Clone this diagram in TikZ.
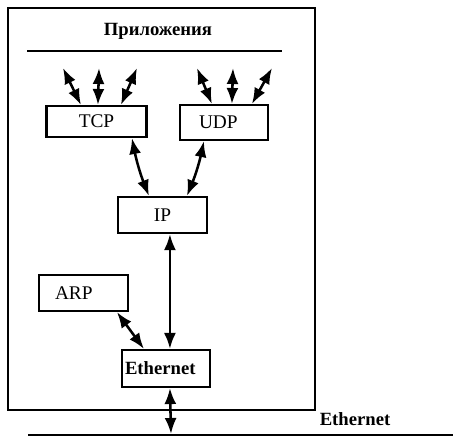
\documentclass[tikz,border=0pt]{standalone}
\usepackage{fontspec}
\setmainfont{Liberation Serif}
\usetikzlibrary{arrows.meta,calc}
\begin{document}
\begin{tikzpicture}[x=0.75pt,y=-0.75pt,
  box/.style={draw,line width=1.6pt,inner sep=0pt,font=\fontsize{14.5}{16}\selectfont},
  conn/.style={line width=1.9pt,{Latex[length=12pt,width=9pt]}-{Latex[length=12pt,width=9pt]}},
  frameline/.style={line width=1.6pt}]
\useasboundingbox (0,0) rectangle (460,444);
\draw[frameline] (8,8) rectangle (315,410);
\node[font=\bfseries\fontsize{14}{16}\selectfont] (title) at (158,31) {Приложения};
\draw[frameline] (27,51) -- (282,51);
\node[box,minimum width=75pt,minimum height=23.25pt] (tcp) at (96.5,121.5) {TCP};
\node[box,minimum width=66pt,minimum height=26.25pt,text width=37.5pt,align=left] (udp) at (224,122.5) {UDP};
\node[box,minimum width=66.75pt,minimum height=27pt] (ip) at (162.5,215) {IP};
\node[box,minimum width=66.75pt,minimum height=27pt,text width=42.75pt,align=left] (arp) at (83.5,293) {ARP};
\node[box,font=\bfseries\fontsize{14}{16}\selectfont,minimum width=66pt,minimum height=27.75pt,text width=61.5pt,align=left] (eth) at (166,368.5) {Ethernet};
\node[font=\bfseries\fontsize{14}{16}\selectfont] (ethlabel) at (355,419) {Ethernet};
\coordinate (t1) at (63,68);
\coordinate (t2) at (99,68);
\coordinate (t3) at (137,68);
\coordinate (u1) at (197,68);
\coordinate (u2) at (233,68);
\coordinate (u3) at (272,68);
\coordinate (busl) at (28,435);
\coordinate (busr) at (453,435);
\coordinate (bus) at (171,434);
\draw[frameline] (busl) -- (busr);
\draw[conn] ($(tcp.north west)+(35.5,0)$) -- (t1);
\draw[conn] ($(tcp.north west)+(52.5,0)$) -- (t2);
\draw[conn] ($(tcp.north west)+(75.5,0)$) -- (t3);
\draw[conn] ($(udp.north west)+(33,0)$) -- (u1);
\draw[conn] ($(udp.north west)+(53,0)$) -- (u2);
\draw[conn] ($(udp.north west)+(73,0)$) -- (u3);
\draw[conn] ($(tcp.south west)+(86.5,0)$) to[bend right=5] ($(ip.north west)+(32,0)$);
\draw[conn] ($(udp.south west)+(25,0)$) to[bend left=5] ($(ip.north west)+(70,0)$);
\draw[conn] ($(ip.south west)+(53,0)$) -- ($(eth.north west)+(49,0)$);
\draw[conn] ($(arp.south west)+(79,0)$) -- ($(eth.north west)+(23,0)$);
\draw[conn] ($(eth.south west)+(49,0)$) -- (bus);
\end{tikzpicture}
\end{document}
